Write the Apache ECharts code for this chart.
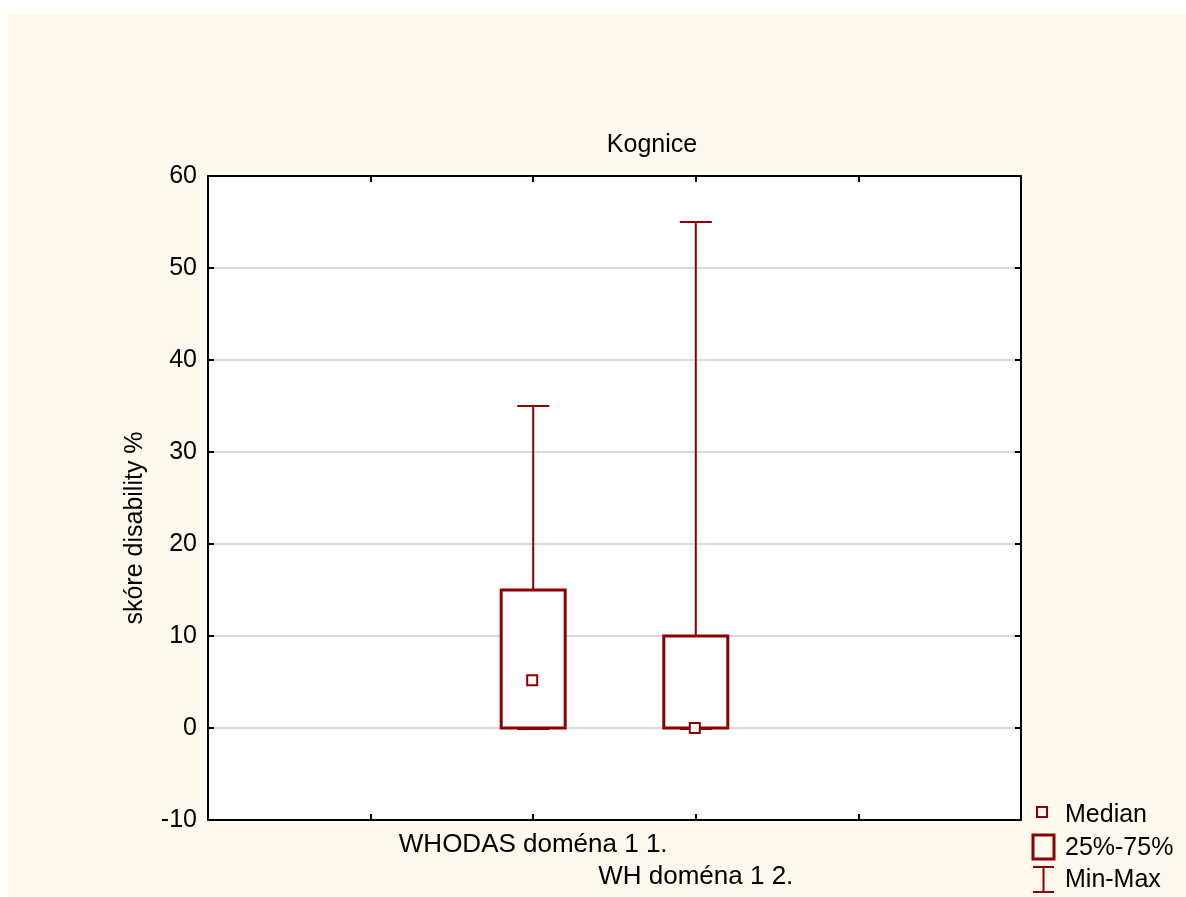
<!DOCTYPE html>
<html>
<head>
<meta charset="utf-8">
<title>Kognice</title>
<script src="https://cdn.jsdelivr.net/npm/echarts@6/dist/echarts.min.js"></script>
<style>
  html, body { margin: 0; padding: 0; background: #ffffff; }
  #box { position: absolute; left: 8px; top: 13px; width: 1178px; height: 884px; background: #fdf9ef; }
</style>
</head>
<body>
<div id="box"></div>
<script>
// data
const categories = ['WHODAS doména 1 1.', 'WH doména 1 2.'];
const positions = [2, 3];
const minVals = [0, 0];
const q1Vals = [0, 0];
const medianVals = [5.2, 0];
const q3Vals = [15, 10];
const maxVals = [35, 55];
const yMin = -10, yMax = 60, yStep = 10;
const xMin = 0, xMax = 5;

const RED = '#8b0000';
const FONT = "'Liberation Sans', Arial, sans-serif";

const chart = echarts.init(document.getElementById('box'));

const boxData = positions.map((p, i) => [p, minVals[i], q1Vals[i], medianVals[i], q3Vals[i], maxVals[i]]);

function renderBox(params, api) {
    const x = api.value(0);
    const top = api.coord([x, api.value(5)]);
    const q3 = api.coord([x, api.value(4)]);
    const med = api.coord([x, api.value(3)]);
    const q1 = api.coord([x, api.value(2)]);
    const bot = api.coord([x, api.value(1)]);
    const cx = top[0];
    const bw = 64, cw = 32, ms = 10;
    const ln = { stroke: RED, lineWidth: 2 };
    return {
        type: 'group',
        children: [
            { type: 'line', shape: { x1: cx, y1: top[1], x2: cx, y2: q3[1] }, style: ln },
            { type: 'line', shape: { x1: cx, y1: bot[1], x2: cx, y2: q1[1] }, style: ln },
            { type: 'line', shape: { x1: cx - cw / 2, y1: top[1], x2: cx + cw / 2, y2: top[1] }, style: ln },
            { type: 'line', shape: { x1: cx - cw / 2, y1: bot[1] + 1, x2: cx + cw / 2, y2: bot[1] + 1 }, style: ln },
            { type: 'rect', shape: { x: cx - bw / 2, y: q3[1], width: bw, height: q1[1] - q3[1] },
              style: { fill: '#ffffff', stroke: RED, lineWidth: 3 } },
            { type: 'rect', shape: { x: cx - ms / 2 - 1, y: med[1] - ms / 2, width: ms, height: ms },
              style: { fill: '#ffffff', stroke: RED, lineWidth: 2 } }
        ]
    };
}

// black frame on all four sides, ticks pointing inward
function frameLine() {
    return { show: true, onZero: false, lineStyle: { color: '#000', width: 2 } };
}
function frameTick() {
    return { show: true, inside: true, length: 6, lineStyle: { color: '#000', width: 2 } };
}

const option = {
    backgroundColor: 'transparent',
    animation: false,
    textStyle: { fontFamily: FONT },
    grid: { left: 200, top: 163, width: 813, height: 644, show: true, backgroundColor: '#ffffff', borderWidth: 0 },
    xAxis: [
        {
            type: 'value', min: xMin, max: xMax, interval: 1,
            axisLine: frameLine(), axisTick: frameTick(),
            splitLine: { show: false },
            axisLabel: {
                margin: 9, color: '#000', fontSize: 26, fontFamily: FONT, lineHeight: 32,
                formatter: function (v) {
                    const i = positions.indexOf(v);
                    if (i < 0) return '';
                    return i % 2 === 1 ? '\n' + categories[i] : categories[i];
                }
            }
        },
        {
            type: 'value', position: 'top', min: xMin, max: xMax, interval: 1,
            axisLine: frameLine(), axisTick: frameTick(),
            axisLabel: { show: false }, splitLine: { show: false }
        }
    ],
    yAxis: [
        {
            type: 'value', min: yMin, max: yMax, interval: yStep,
            axisLine: frameLine(), axisTick: frameTick(),
            axisLabel: { margin: 11, color: '#000', fontSize: 25, fontFamily: FONT },
            splitLine: { show: true, lineStyle: { color: '#d9d9d9', width: 2 } }
        },
        {
            type: 'value', position: 'right', min: yMin, max: yMax, interval: yStep,
            axisLine: frameLine(), axisTick: frameTick(),
            axisLabel: { show: false }, splitLine: { show: false }
        }
    ],
    series: [
        {
            type: 'custom',
            xAxisIndex: 0, yAxisIndex: 0,
            renderItem: renderBox,
            encode: { x: 0, y: [1, 2, 3, 4, 5] },
            data: boxData,
            z: 10
        }
    ],
    graphic: [
        // title
        { type: 'text', x: 644, y: 132,
          style: { text: 'Kognice', fill: '#000', font: '25px ' + FONT, textAlign: 'center', textVerticalAlign: 'middle' } },
        // y axis name
        { type: 'text', x: 127, y: 515, rotation: Math.PI / 2,
          style: { text: 'skóre disability %', fill: '#000', font: '25px ' + FONT, textAlign: 'center', textVerticalAlign: 'middle' } },
        // legend
        { type: 'rect', shape: { x: 1029, y: 794, width: 10, height: 10 },
          style: { fill: 'none', stroke: RED, lineWidth: 2 } },
        { type: 'text', x: 1057, y: 802,
          style: { text: 'Median', fill: '#000', font: '25px ' + FONT, textVerticalAlign: 'middle' } },
        { type: 'rect', shape: { x: 1025, y: 822, width: 21, height: 24 },
          style: { fill: 'none', stroke: RED, lineWidth: 3 } },
        { type: 'text', x: 1057, y: 835,
          style: { text: '25%-75%', fill: '#000', font: '25px ' + FONT, textVerticalAlign: 'middle' } },
        { type: 'polyline', shape: { points: [[1025, 854], [1046, 854]] }, style: { stroke: RED, lineWidth: 2 } },
        { type: 'polyline', shape: { points: [[1035.5, 854], [1035.5, 879]] }, style: { stroke: RED, lineWidth: 2 } },
        { type: 'polyline', shape: { points: [[1025, 879], [1046, 879]] }, style: { stroke: RED, lineWidth: 2 } },
        { type: 'text', x: 1057, y: 867,
          style: { text: 'Min-Max', fill: '#000', font: '25px ' + FONT, textVerticalAlign: 'middle' } }
    ]
};

chart.setOption(option);
</script>
</body>
</html>
